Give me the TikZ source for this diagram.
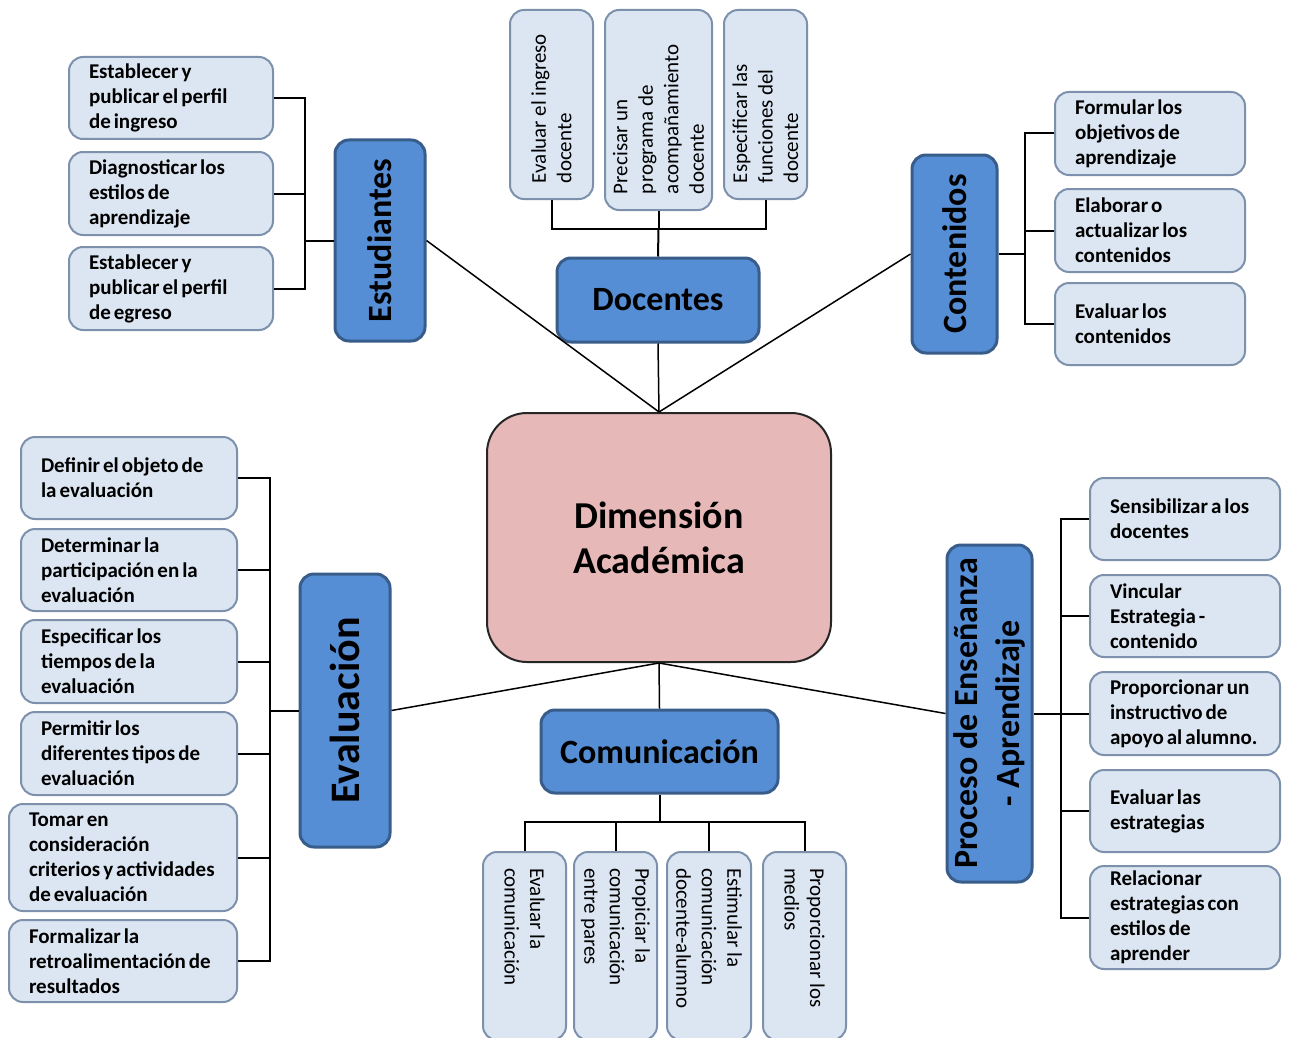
\documentclass[tikz,border=0pt]{standalone}
\usepackage{fontspec}
\setmainfont{Carlito}
\definecolor{mainblue}{HTML}{558ED5}
\definecolor{mainborder}{HTML}{385D8A}
\definecolor{leaffill}{HTML}{DCE6F2}
\definecolor{leafborder}{HTML}{7D90AC}
\definecolor{centerfill}{HTML}{E6B9B8}
\newcommand{\leaffont}{\bfseries\fontsize{21}{25}\selectfont\spaceskip=3pt\relax\xspaceskip=3pt\relax\hyphenpenalty=10000\relax}
\newcommand{\vleaffont}{\fontsize{21}{25.5}\selectfont\spaceskip=4.5pt\relax\hyphenpenalty=10000\relax}
\begin{document}
\begin{tikzpicture}[x=1pt,y=-1pt,
  leaf/.style={draw=leafborder, fill=leaffill, line width=2pt, rounded corners=14pt,
    inner xsep=20pt, inner ysep=0pt, align=flush left, font=\leaffont},
  vleaf/.style={draw=leafborder, fill=leaffill, line width=2pt, rounded corners=14pt,
    inner xsep=16pt, inner ysep=0pt, align=flush left, font=\vleaffont},
  mainbox/.style={draw=mainborder, fill=mainblue, line width=3pt, rounded corners=14pt,
    inner sep=0pt, align=center, font=\bfseries\fontsize{34}{42}\selectfont},
  centerbox/.style={draw=black!85, fill=centerfill, line width=2pt, rounded corners=40pt,
    inner sep=0pt, align=center, font=\bfseries\fontsize{38}{45}\selectfont},
  tree/.style={line width=2pt, black},
  spoke/.style={line width=1.5pt, black}
]
\useasboundingbox[fill=white] (0,0) rectangle (1290,1038);

% ---------- central node ----------
\node[centerbox, minimum width=344, minimum height=249] (dim) at (659,537.5) {Dimensión\\Académica};

% ---------- main nodes ----------
\node[mainbox, rotate=90, minimum width=201, minimum height=90] (est) at (380,240.5) {Estudiantes};
\node[mainbox, minimum width=202, minimum height=84] (doc) at (658,300) {Docentes};
\node[mainbox, rotate=90, minimum width=198, minimum height=85] (con) at (954.5,254) {Contenidos};
\node[mainbox, rotate=90, minimum width=273, minimum height=90, font=\bfseries\fontsize{42}{48}\selectfont] (eval) at (345,710.5) {Evaluación};
\node[mainbox, minimum width=237, minimum height=83] (com) at (659.5,751.5) {Comunicación};
\node[mainbox, rotate=90, minimum width=337, minimum height=85] (pea) at (989.5,713.5) {Proceso de Enseñanza\\- Aprendizaje};

% ---------- Estudiantes leaves ----------
\node[leaf, text width=164, minimum height=82] (s1) at (171,98) {Establecer y\\publicar el perfil\\de ingreso};
\node[leaf, text width=164, minimum height=83] (s2) at (171,193.5) {Diagnosticar los\\estilos de\\aprendizaje};
\node[leaf, text width=164, minimum height=83] (s3) at (171,288.5) {Establecer y\\publicar el perfil\\de egreso};

% ---------- Docentes leaves ----------
\node[vleaf, rotate=90, text width=157, minimum height=83] (d1) at (551.5,104.5) {Evaluar el ingreso\\docente};
\node[vleaf, rotate=90, text width=168, minimum height=107] (d2) at (658.5,110) {Precisar un\\programa de\\acompañamiento\\docente};
\node[vleaf, rotate=90, text width=157, minimum height=83] (d3) at (765.5,104.5) {Especificar las\\funciones del\\docente};

% ---------- Contenidos leaves ----------
\node[leaf, text width=150, minimum height=83] (k1) at (1150,133.5) {Formular los\\objetivos de\\aprendizaje};
\node[leaf, text width=150, minimum height=83] (k2) at (1150,230.5) {Elaborar o\\actualizar los\\contenidos};
\node[leaf, text width=150, minimum height=82] (k3) at (1150,324) {Evaluar los\\contenidos};

% ---------- Evaluación leaves ----------
\node[leaf, text width=176, minimum height=82] (e1) at (129,478) {Definir el objeto de\\la evaluación};
\node[leaf, text width=176, minimum height=82] (e2) at (129,570) {Determinar la\\participación en la\\evaluación};
\node[leaf, text width=176, minimum height=83] (e3) at (129,661.5) {Especificar los\\tiempos de la\\evaluación};
\node[leaf, text width=176, minimum height=83] (e4) at (129,753.5) {Permitir los\\diferentes tipos de\\evaluación};
\node[leaf, text width=188, minimum height=107] (e5) at (123,857.5) {Tomar en\\consideración\\criterios y actividades\\de evaluación};
\node[leaf, text width=188, minimum height=82] (e6) at (123,961) {Formalizar la\\retroalimentación de\\resultados};

% ---------- Comunicación leaves ----------
\node[vleaf, rotate=-90, text width=156, minimum height=83] (c1) at (524.5,946) {Evaluar la\\comunicación};
\node[vleaf, rotate=-90, text width=156, minimum height=83] (c2) at (615.5,946) {Propiciar la\\comunicación\\entre pares};
\node[vleaf, rotate=-90, text width=156, minimum height=84] (c3) at (709,946) {Estimular la\\comunicación\\docente-alumno};
\node[vleaf, rotate=-90, text width=156, minimum height=83] (c4) at (804.5,946) {Proporcionar los\\medios};

% ---------- Proceso leaves ----------
\node[leaf, text width=150, minimum height=82] (p1) at (1185,519) {Sensibilizar a los\\docentes};
\node[leaf, text width=150, minimum height=82] (p2) at (1185,616) {Vincular\\Estrategia -\\contenido};
\node[leaf, text width=150, minimum height=83] (p3) at (1185,713.5) {Proporcionar un\\instructivo de\\apoyo al alumno.};
\node[leaf, text width=150, minimum height=82] (p4) at (1185,811) {Evaluar las\\estrategias};
\node[leaf, text width=150, minimum height=103] (p5) at (1185,917.5) {Relacionar\\estrategias con\\estilos de\\aprender};

% ---------- junctions ----------
\coordinate (jS) at (305,240.5);
\coordinate (jD) at (658.5,229);
\coordinate (jK) at (1025,254);
\coordinate (jE) at (270,710.5);
\coordinate (jC) at (659.5,822);
\coordinate (jP) at (1061,713.5);

% ---------- spokes from centre ----------
\draw[spoke] (dim.north) -- (est.south);
\draw[spoke] (dim.north) -- (doc.south);
\draw[spoke] (dim.north) -- (con.north);
\draw[spoke] (dim.south) -- (eval.south);
\draw[spoke] (dim.south) -- (com.north);
\draw[spoke] (dim.south) -- (pea.north);

% ---------- trees ----------
\draw[tree] (est.north) -- (jS);
\foreach \n in {s1,s2,s3} \draw[tree] (\n.east) -| (jS);

\draw[tree] (doc.north) -- (jD);
\foreach \n in {d1,d2,d3} \draw[tree] (\n.west) |- (jD);

\draw[tree] (con.south) -- (jK);
\foreach \n in {k1,k2,k3} \draw[tree] (\n.west) -| (jK);

\draw[tree] (eval.north) -- (jE);
\foreach \n in {e1,e2,e3,e4,e5,e6} \draw[tree] (\n.east) -| (jE);

\draw[tree] (com.south) -- (jC);
\foreach \n in {c1,c2,c3,c4} \draw[tree] (\n.west) |- (jC);

\draw[tree] (pea.south) -- (jP);
\foreach \n in {p1,p2,p3,p4,p5} \draw[tree] (\n.west) -| (jP);
\end{tikzpicture}
\end{document}
